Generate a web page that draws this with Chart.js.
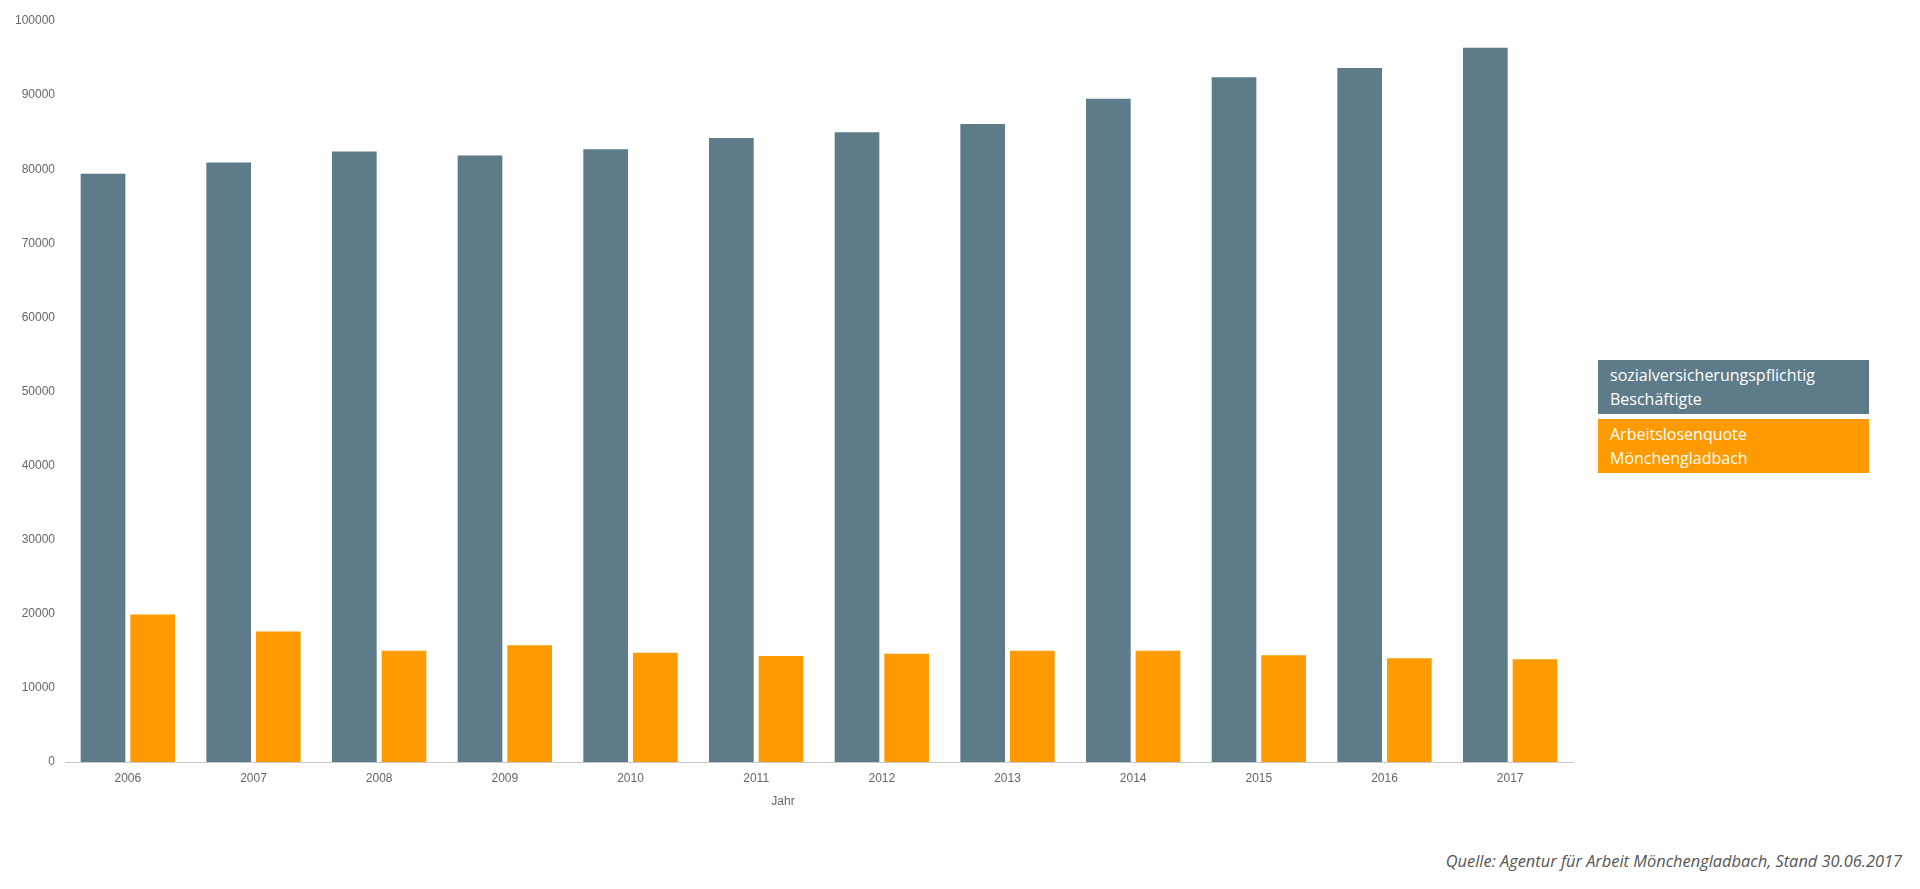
<!DOCTYPE html>
<html lang="de">
<head>
<meta charset="utf-8">
<title>Beschäftigte und Arbeitslose Mönchengladbach</title>
<script src="https://cdn.jsdelivr.net/npm/chart.js@4/dist/chart.umd.min.js"></script>
<style>
    html, body {
        margin: 0;
        padding: 0;
        background: #fff;
    }
    #wrap {
        position: relative;
        width: 1920px;
        height: 889px;
        overflow: hidden;
    }
    #chartBox {
        position: absolute;
        left: 0;
        top: 0;
        width: 1590px;
        height: 830px;
    }
    #legende {
        position: absolute;
        left: 1598px;
        top: 360px;
        width: 271px;
    }
    .leg-item {
        box-sizing: border-box;
        width: 271px;
        height: 54px;
        margin-bottom: 5px;
        padding: 3px 12px;
        color: #fff;
        font-family: "Open Sans", "Noto Sans", sans-serif;
        font-size: 16px;
        line-height: 24px;
    }
    #achseX {
        position: absolute;
        left: 783px;
        top: 794px;
        transform: translateX(-50%);
        font-family: "Liberation Sans", Arial, sans-serif;
        font-size: 12px;
        color: #666;
    }
    #quelle {
        position: absolute;
        right: 18px;
        top: 849px;
        font-family: "Open Sans", "Noto Sans", sans-serif;
        font-style: italic;
        font-size: 16.4px;
        color: #555;
    }
</style>
</head>
<body>
<div id="wrap">
    <div id="chartBox"><canvas id="grafico"></canvas></div>
    <div id="legende"></div>
    <div id="achseX">Jahr</div>
    <div id="quelle">Quelle: Agentur für Arbeit Mönchengladbach, Stand 30.06.2017</div>
</div>

<script>
// Daten
const jahre = ["2006", "2007", "2008", "2009", "2010", "2011", "2012", "2013", "2014", "2015", "2016", "2017"];
const beschaeftigte = [79400, 80900, 82400, 81850, 82700, 84200, 85000, 86100, 89500, 92400, 93650, 96400];
const arbeitslose = [19900, 17600, 15000, 15750, 14750, 14300, 14600, 15000, 15000, 14400, 14000, 13850];
const serienNamen = [
    ["sozialversicherungspflichtig", "Beschäftigte"],
    ["Arbeitslosenquote", "Mönchengladbach"]
];
const farben = ["#5e7b89", "#ff9a00"];
const yTicks = [0, 10000, 20000, 30000, 40000, 50000, 60000, 70000, 80000, 90000, 100000];

function renderLegende() {
    const html = serienNamen.map((n, i) => `
        <div class="leg-item" style="background:${farben[i]};">${n.join("<br>")}</div>
    `).join("");
    document.getElementById("legende").innerHTML = html;
}

function renderGrafico() {
    const ctx = document.getElementById("grafico");

    new Chart(ctx, {
        type: "bar",
        data: {
            labels: jahre,
            datasets: [{
                label: serienNamen[0].join(" "),
                data: beschaeftigte,
                backgroundColor: farben[0],
                categoryPercentage: 0.79,
                barPercentage: 0.9
            }, {
                label: serienNamen[1].join(" "),
                data: arbeitslose,
                backgroundColor: farben[1],
                categoryPercentage: 0.79,
                barPercentage: 0.9
            }]
        },
        options: {
            responsive: true,
            maintainAspectRatio: false,
            animation: false,
            layout: {
                padding: { top: 21, left: 0, right: 17, bottom: 0 }
            },
            plugins: {
                legend: { display: false },
                tooltip: { enabled: false }
            },
            scales: {
                x: {
                    grid: { display: false, drawTicks: false },
                    border: { display: true, color: "#c8c8c8", width: 1 },
                    ticks: {
                        color: "#666",
                        padding: 9,
                        font: { family: "Liberation Sans, Arial, sans-serif", size: 12 }
                    },
                    afterFit: s => { s.height = 68; }
                },
                y: {
                    min: 0,
                    max: 100000,
                    afterBuildTicks: s => { s.ticks = yTicks.map(v => ({ value: v })); },
                    grid: { display: false, drawTicks: false },
                    border: { display: false },
                    ticks: {
                        color: "#666",
                        padding: 10,
                        callback: v => String(v),
                        font: { family: "Liberation Sans, Arial, sans-serif", size: 12 }
                    },
                    afterFit: s => { s.width = 65; }
                }
            }
        }
    });
}

renderLegende();
renderGrafico();
</script>
</body>
</html>
